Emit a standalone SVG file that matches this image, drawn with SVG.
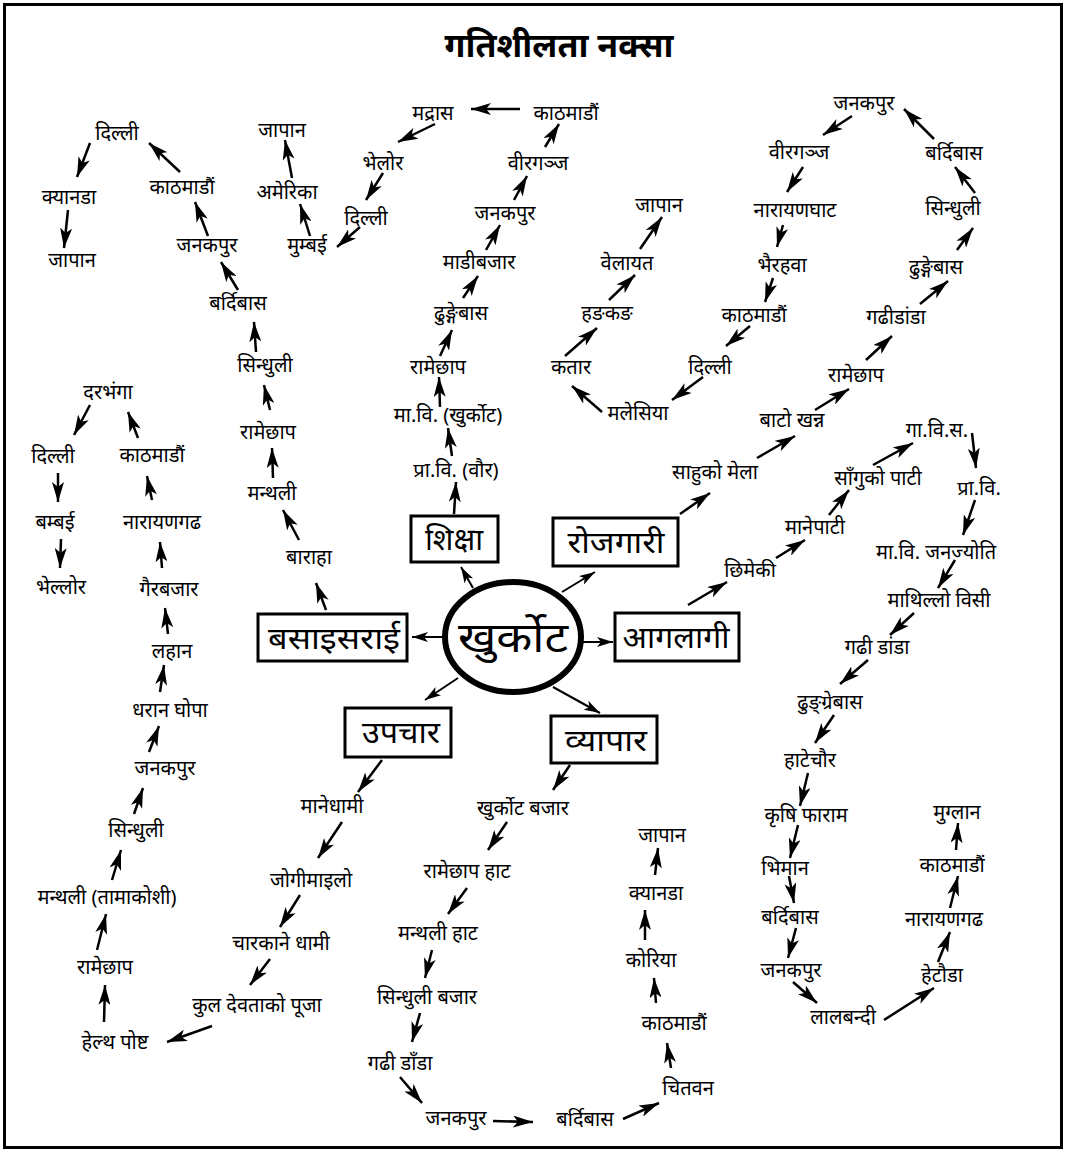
<svg xmlns="http://www.w3.org/2000/svg" width="1066" height="1152" viewBox="0 0 1066 1152">
<style>
text{font-family:"Noto Sans","Noto Serif",serif;fill:#000;text-anchor:middle}
.l{font-size:20px}
.b{font-size:30px}
.t{font-size:34px;font-weight:bold}
.c{stroke:#000;stroke-width:2.5;fill:none;marker-end:url(#ah)}
.s{stroke:#000;stroke-width:2;fill:none;marker-end:url(#sh)}
.box{fill:#fff;stroke:#000;stroke-width:3}
</style>
<defs>
<marker id="ah" markerUnits="userSpaceOnUse" viewBox="0 0 20 12" markerWidth="20" markerHeight="12" refX="20" refY="6" orient="auto"><path d="M0,0 L20,6 L0,12 L5,6 z" fill="#000"/></marker>
<marker id="sh" markerUnits="userSpaceOnUse" viewBox="0 0 16 10" markerWidth="16" markerHeight="10" refX="16" refY="5" orient="auto"><path d="M0,0 L16,5 L0,10 L4,5 z" fill="#000"/></marker>
</defs>
<rect x="4.5" y="4.5" width="1057" height="1143" fill="#fff" stroke="#000" stroke-width="3"/>
<text class="t" x="559" y="57">गतिशीलता  नक्सा</text>
<g id="connectors">
<line class="c" x1="90" y1="143" x2="77" y2="177"/>
<line class="c" x1="68" y1="210" x2="64" y2="248"/>
<line class="c" x1="180" y1="172" x2="149" y2="143"/>
<line class="c" x1="208" y1="236" x2="195" y2="202"/>
<line class="c" x1="238" y1="290" x2="221" y2="262"/>
<line class="c" x1="256" y1="352" x2="254" y2="322"/>
<line class="c" x1="310" y1="236" x2="300" y2="204"/>
<line class="c" x1="292" y1="178" x2="285" y2="140"/>
<line class="c" x1="360" y1="227" x2="337" y2="247"/>
<line class="c" x1="520" y1="109" x2="471" y2="109"/>
<line class="c" x1="435" y1="124" x2="398" y2="142"/>
<line class="c" x1="383" y1="173" x2="366" y2="200"/>
<line class="c" x1="545" y1="147" x2="559" y2="124"/>
<line class="c" x1="514" y1="200" x2="527" y2="176"/>
<line class="c" x1="486" y1="250" x2="500" y2="225"/>
<line class="c" x1="463" y1="298" x2="478" y2="276"/>
<line class="c" x1="440" y1="356" x2="452" y2="330"/>
<line class="c" x1="440" y1="407" x2="439" y2="377"/>
<line class="c" x1="452" y1="456" x2="448" y2="428"/>
<line class="c" x1="454" y1="514" x2="456" y2="482"/>
<line class="c" x1="640" y1="249" x2="662" y2="217"/>
<line class="c" x1="609" y1="300" x2="635" y2="275"/>
<line class="c" x1="565" y1="356" x2="597" y2="328"/>
<line class="c" x1="602" y1="412" x2="572" y2="386"/>
<line class="c" x1="703" y1="377" x2="672" y2="400"/>
<line class="c" x1="852" y1="116" x2="823" y2="135"/>
<line class="c" x1="803" y1="167" x2="787" y2="192"/>
<line class="c" x1="783" y1="225" x2="777" y2="247"/>
<line class="c" x1="773" y1="278" x2="765" y2="302"/>
<line class="c" x1="750" y1="326" x2="726" y2="346"/>
<line class="c" x1="934" y1="139" x2="904" y2="109"/>
<line class="c" x1="975" y1="193" x2="955" y2="167"/>
<line class="c" x1="957" y1="250" x2="973" y2="228"/>
<line class="c" x1="920" y1="304" x2="948" y2="281"/>
<line class="c" x1="866" y1="360" x2="892" y2="336"/>
<line class="c" x1="815" y1="410" x2="849" y2="389"/>
<line class="c" x1="757" y1="458" x2="795" y2="436"/>
<line class="c" x1="680" y1="514" x2="710" y2="493"/>
<line class="c" x1="873" y1="465" x2="913" y2="443"/>
<line class="c" x1="972" y1="433" x2="976" y2="468"/>
<line class="c" x1="829" y1="515" x2="849" y2="490"/>
<line class="c" x1="776" y1="558" x2="805" y2="540"/>
<line class="c" x1="688" y1="605" x2="727" y2="582"/>
<line class="c" x1="975" y1="500" x2="963" y2="535"/>
<line class="c" x1="955" y1="560" x2="938" y2="588"/>
<line class="c" x1="914" y1="613" x2="890" y2="635"/>
<line class="c" x1="868" y1="660" x2="840" y2="684"/>
<line class="c" x1="834" y1="715" x2="815" y2="743"/>
<line class="c" x1="808" y1="773" x2="800" y2="806"/>
<line class="c" x1="798" y1="825" x2="790" y2="858"/>
<line class="c" x1="789" y1="876" x2="794" y2="903"/>
<line class="c" x1="796" y1="928" x2="788" y2="958"/>
<line class="c" x1="793" y1="982" x2="817" y2="1003"/>
<line class="c" x1="884" y1="1020" x2="934" y2="988"/>
<line class="c" x1="938" y1="962" x2="950" y2="932"/>
<line class="c" x1="950" y1="908" x2="958" y2="876"/>
<line class="c" x1="956" y1="850" x2="958" y2="823"/>
<line class="c" x1="570" y1="765" x2="553" y2="790"/>
<line class="c" x1="507" y1="822" x2="488" y2="850"/>
<line class="c" x1="467" y1="888" x2="448" y2="914"/>
<line class="c" x1="432" y1="950" x2="425" y2="978"/>
<line class="c" x1="420" y1="1013" x2="412" y2="1042"/>
<line class="c" x1="400" y1="1077" x2="422" y2="1103"/>
<line class="c" x1="493" y1="1121" x2="533" y2="1122"/>
<line class="c" x1="623" y1="1119" x2="659" y2="1103"/>
<line class="c" x1="671" y1="1068" x2="667" y2="1043"/>
<line class="c" x1="656" y1="1003" x2="654" y2="978"/>
<line class="c" x1="645" y1="940" x2="645" y2="910"/>
<line class="c" x1="655" y1="875" x2="658" y2="848"/>
<line class="c" x1="382" y1="760" x2="358" y2="792"/>
<line class="c" x1="342" y1="822" x2="318" y2="858"/>
<line class="c" x1="300" y1="895" x2="280" y2="927"/>
<line class="c" x1="270" y1="959" x2="250" y2="985"/>
<line class="c" x1="212" y1="1026" x2="167" y2="1042"/>
<line class="c" x1="104" y1="1022" x2="105" y2="985"/>
<line class="c" x1="97" y1="950" x2="106" y2="914"/>
<line class="c" x1="112" y1="880" x2="121" y2="850"/>
<line class="c" x1="134" y1="814" x2="143" y2="788"/>
<line class="c" x1="90" y1="405" x2="74" y2="435"/>
<line class="c" x1="58" y1="473" x2="58" y2="502"/>
<line class="c" x1="61" y1="539" x2="60" y2="568"/>
<line class="c" x1="138" y1="438" x2="128" y2="412"/>
<line class="c" x1="152" y1="500" x2="147" y2="476"/>
<line class="c" x1="162" y1="568" x2="160" y2="542"/>
<line class="c" x1="168" y1="634" x2="165" y2="608"/>
<line class="c" x1="160" y1="692" x2="164" y2="665"/>
<line class="c" x1="149" y1="752" x2="159" y2="726"/>
<line class="c" x1="270" y1="410" x2="264" y2="385"/>
<line class="c" x1="273" y1="478" x2="272" y2="448"/>
<line class="c" x1="299" y1="540" x2="283" y2="510"/>
<line class="c" x1="326" y1="610" x2="316" y2="583"/>
<line class="s" x1="473" y1="588" x2="461" y2="567"/>
<line class="s" x1="562" y1="592" x2="595" y2="572"/>
<line class="s" x1="443" y1="637" x2="412" y2="637"/>
<line class="s" x1="583" y1="642" x2="613" y2="642"/>
<line class="s" x1="458" y1="678" x2="425" y2="700"/>
<line class="s" x1="553" y1="687" x2="600" y2="713"/>
</g>
<g id="hub"><ellipse cx="513" cy="637" rx="68" ry="55" fill="#fff" stroke="#000" stroke-width="6"/><text x="513" y="652" style="font-size:42px" textLength="110" lengthAdjust="spacingAndGlyphs">खुर्कोट</text></g>
<g id="box-shiksha"><rect class="box" x="411" y="516" width="87" height="46"/><text class="b" x="454" y="550" textLength="58" lengthAdjust="spacingAndGlyphs">शिक्षा</text></g>
<g id="box-rojgari"><rect class="box" x="553" y="518" width="125" height="48"/><text class="b" x="616" y="553" textLength="97" lengthAdjust="spacingAndGlyphs">रोजगारी</text></g>
<g id="box-basai"><rect class="box" x="258" y="614" width="149" height="47"/><text class="b" x="334" y="649" textLength="132" lengthAdjust="spacingAndGlyphs">बसाइसराई</text></g>
<g id="box-aagalagi"><rect class="box" x="615" y="613" width="124" height="48"/><text class="b" x="676" y="648" textLength="107" lengthAdjust="spacingAndGlyphs">आगलागी</text></g>
<g id="box-upachar"><rect class="box" x="345" y="708" width="106" height="49"/><text class="b" x="401" y="743" textLength="78" lengthAdjust="spacingAndGlyphs">उपचार</text></g>
<g id="box-byapar"><rect class="box" x="551" y="716" width="106" height="47"/><text class="b" x="606" y="751" textLength="82" lengthAdjust="spacingAndGlyphs">व्यापार</text></g>
<g id="labels" transform="translate(0,1)">
<text class="l" id="n1" x="117" y="139">दिल्ली</text>
<text class="l" id="n2" x="69" y="203">क्यानडा</text>
<text class="l" id="n3" x="72" y="266">जापान</text>
<text class="l" id="n4" x="182" y="193">काठमाडौं</text>
<text class="l" id="n5" x="207" y="251">जनकपुर</text>
<text class="l" id="n6" x="238" y="309">बर्दिबास</text>
<text class="l" id="n7" x="265" y="371">सिन्धुली</text>
<text class="l" id="n8" x="282" y="136">जापान</text>
<text class="l" id="n9" x="287" y="198">अमेरिका</text>
<text class="l" id="n10" x="307" y="251">मुम्बई</text>
<text class="l" id="n11" x="366" y="224">दिल्ली</text>
<text class="l" id="n12" x="433" y="119">मद्रास</text>
<text class="l" id="n13" x="566" y="119">काठमाडौं</text>
<text class="l" id="n14" x="383" y="169">भेलोर</text>
<text class="l" id="n15" x="538" y="169">वीरगञ्ज</text>
<text class="l" id="n16" x="505" y="219">जनकपुर</text>
<text class="l" id="n17" x="479" y="268">माडीबजार</text>
<text class="l" id="n18" x="461" y="319">ढुङ्गेबास</text>
<text class="l" id="n19" x="438" y="373">रामेछाप</text>
<text class="l" id="n20" x="659" y="211">जापान</text>
<text class="l" id="n21" x="627" y="269">वेलायत</text>
<text class="l" id="n22" x="607" y="319">हङकङ</text>
<text class="l" id="n23" x="571" y="373">कतार</text>
<text class="l" id="n24" x="710" y="373">दिल्ली</text>
<text class="l" id="n25" x="638" y="419">मलेसिया</text>
<text class="l" id="n26" x="864" y="109">जनकपुर</text>
<text class="l" id="n27" x="799" y="158">वीरगञ्ज</text>
<text class="l" id="n28" x="795" y="216">नारायणघाट</text>
<text class="l" id="n29" x="782" y="271">भैरहवा</text>
<text class="l" id="n30" x="754" y="321">काठमाडौं</text>
<text class="l" id="n31" x="954" y="159">बर्दिबास</text>
<text class="l" id="n32" x="953" y="214">सिन्धुली</text>
<text class="l" id="n33" x="936" y="273">ढुङ्गेबास</text>
<text class="l" id="n34" x="896" y="323">गढीडांडा</text>
<text class="l" id="n35" x="856" y="381">रामेछाप</text>
<text class="l" id="n36" x="792" y="426">बाटो  खन्न</text>
<text class="l" id="n37" x="715" y="478">साहुको  मेला</text>
<text class="l" id="n38" x="937" y="436">गा.वि.स.</text>
<text class="l" id="n39" x="878" y="484">साँगुको  पाटी</text>
<text class="l" id="n40" x="979" y="494">प्रा.वि.</text>
<text class="l" id="n41" x="815" y="533">मानेपाटी</text>
<text class="l" id="n42" x="750" y="576">छिमेकी</text>
<text class="l" id="n43" x="936" y="558">मा.वि.  जनज्योति</text>
<text class="l" id="n44" x="939" y="606">माथिल्लो  विसी</text>
<text class="l" id="n45" x="877" y="653">गढी  डांडा</text>
<text class="l" id="n46" x="830" y="708">ढुङ्ग्रेबास</text>
<text class="l" id="n47" x="810" y="766">हाटेचौर</text>
<text class="l" id="n48" x="806" y="821">कृषि  फाराम</text>
<text class="l" id="n49" x="785" y="874">भिमान</text>
<text class="l" id="n50" x="790" y="923">बर्दिबास</text>
<text class="l" id="n51" x="791" y="976">जनकपुर</text>
<text class="l" id="n52" x="843" y="1023">लालबन्दी</text>
<text class="l" id="n53" x="942" y="981">हेटौडा</text>
<text class="l" id="n54" x="944" y="925">नारायणगढ</text>
<text class="l" id="n55" x="952" y="871">काठमाडौं</text>
<text class="l" id="n56" x="957" y="818">मुग्लान</text>
<text class="l" id="n57" x="523" y="814">खुर्कोट  बजार</text>
<text class="l" id="n58" x="467" y="877">रामेछाप  हाट</text>
<text class="l" id="n59" x="438" y="939">मन्थली  हाट</text>
<text class="l" id="n60" x="427" y="1003">सिन्धुली  बजार</text>
<text class="l" id="n61" x="400" y="1069">गढी डाँडा</text>
<text class="l" id="n62" x="456" y="1124">जनकपुर</text>
<text class="l" id="n63" x="585" y="1125">बर्दिबास</text>
<text class="l" id="n64" x="688" y="1094">चितवन</text>
<text class="l" id="n65" x="674" y="1029">काठमाडौं</text>
<text class="l" id="n66" x="651" y="966">कोरिया</text>
<text class="l" id="n67" x="656" y="899">क्यानडा</text>
<text class="l" id="n68" x="662" y="841">जापान</text>
<text class="l" id="n69" x="332" y="812">मानेधामी</text>
<text class="l" id="n70" x="311" y="886">जोगीमाइलो</text>
<text class="l" id="n71" x="281" y="949">चारकाने  धामी</text>
<text class="l" id="n72" x="257" y="1011">कुल  देवताको  पूजा</text>
<text class="l" id="n73" x="115" y="1048">हेल्थ  पोष्ट</text>
<text class="l" id="n74" x="105" y="973">रामेछाप</text>
<text class="l" id="n75" x="107" y="903">मन्थली (तामाकोशी)</text>
<text class="l" id="n76" x="136" y="836">सिन्धुली</text>
<text class="l" id="n77" x="165" y="774">जनकपुर</text>
<text class="l" id="n78" x="108" y="398">दरभंगा</text>
<text class="l" id="n79" x="53" y="462">दिल्ली</text>
<text class="l" id="n80" x="55" y="528">बम्बई</text>
<text class="l" id="n81" x="61" y="593">भेल्लोर</text>
<text class="l" id="n82" x="152" y="461">काठमाडौं</text>
<text class="l" id="n83" x="162" y="528">नारायणगढ</text>
<text class="l" id="n84" x="169" y="595">गैरबजार</text>
<text class="l" id="n85" x="172" y="657">लहान</text>
<text class="l" id="n86" x="170" y="716">धरान  घोपा</text>
<text class="l" id="n87" x="268" y="438">रामेछाप</text>
<text class="l" id="n88" x="272" y="499">मन्थली</text>
<text class="l" id="n89" x="309" y="563">बाराहा</text>
<text class="l" id="n90" x="448" y="421">मा.वि. (खुर्कोट)</text>
<text class="l" id="n91" x="456" y="476">प्रा.वि. (वौर)</text>
</g>
</svg>
